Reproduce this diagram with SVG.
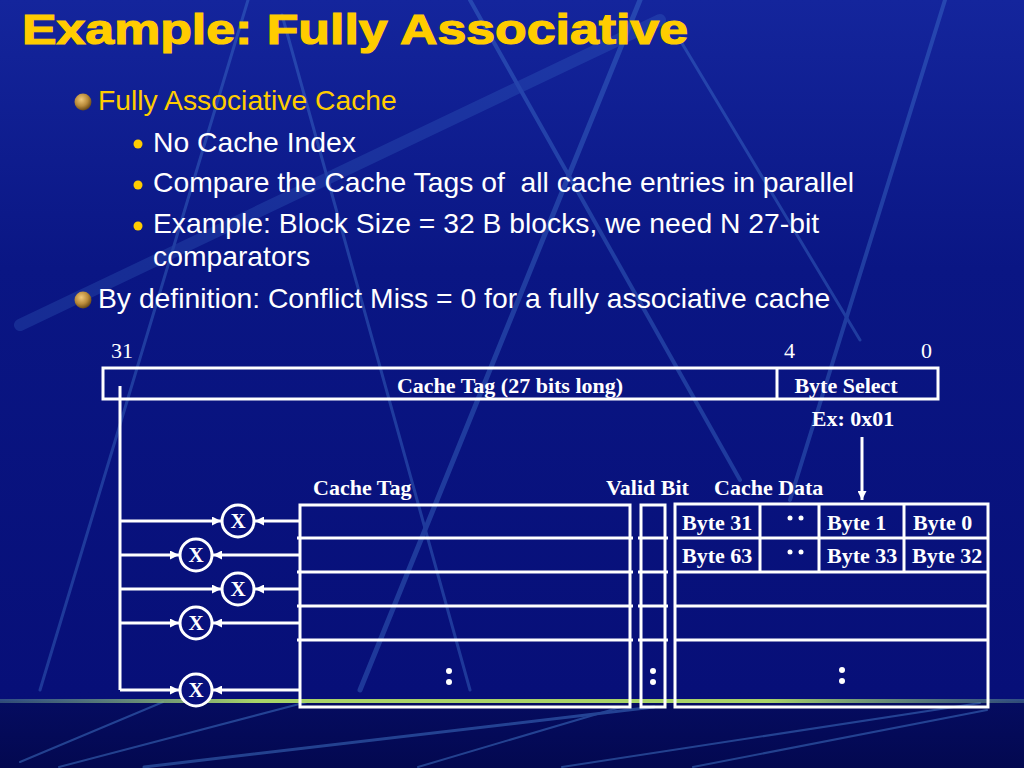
<svg xmlns="http://www.w3.org/2000/svg" width="1024" height="768" viewBox="0 0 1024 768">
<defs>
<linearGradient id="bg" x1="0" y1="0" x2="0" y2="1">
<stop offset="0" stop-color="#14259c"/>
<stop offset="0.35" stop-color="#0a1684"/>
<stop offset="0.9" stop-color="#070f78"/>
<stop offset="1" stop-color="#060e70"/>
</linearGradient>
<linearGradient id="bot" x1="0" y1="0" x2="0" y2="1">
<stop offset="0" stop-color="#050c60"/>
<stop offset="1" stop-color="#030850"/>
</linearGradient>
<linearGradient id="green" x1="0" y1="0" x2="1" y2="0">
<stop offset="0" stop-color="#5a8a90" stop-opacity="0.5"/>
<stop offset="0.25" stop-color="#a8d468"/>
<stop offset="0.75" stop-color="#a8d468"/>
<stop offset="1" stop-color="#5a8a90" stop-opacity="0.5"/>
</linearGradient>
<radialGradient id="ball" cx="0.4" cy="0.35" r="0.65">
<stop offset="0" stop-color="#f0c878"/>
<stop offset="0.6" stop-color="#b88a3a"/>
<stop offset="1" stop-color="#6a4a18"/>
</radialGradient>
<marker id="ah" viewBox="0 0 10 10" refX="10" refY="5" markerWidth="10" markerHeight="9" markerUnits="userSpaceOnUse" orient="auto">
<path d="M0,0 L10,5 L0,10 z" fill="#ffffff"/>
</marker>
<style>
.streak{stroke:#4a86d8;fill:none;stroke-linecap:round}
.title{font-family:"Liberation Sans",Arial,sans-serif;font-weight:900;fill:#FFCC00;stroke:#FFCC00;stroke-width:1.2}
.b1{font-family:"Liberation Sans",Arial,sans-serif;font-size:28.3px;fill:#FFCC00}
.b2{font-family:"Liberation Sans",Arial,sans-serif;font-size:28.3px;fill:#ffffff}
.lbl{font-family:"Liberation Serif","Times New Roman",serif;font-weight:bold;font-size:22px;fill:#ffffff}
.num{font-family:"Liberation Serif","Times New Roman",serif;font-size:22px;fill:#ffffff}
.box{fill:none;stroke:#ffffff;stroke-width:3}
.ln{stroke:#ffffff;stroke-width:3;fill:none}
.wire{stroke:#ffffff;stroke-width:3;fill:none}
.arr{stroke:#ffffff;stroke-width:3;fill:none;marker-end:url(#ah)}
.cmp{fill:#08107c;stroke:#ffffff;stroke-width:3}
.cx{font-family:"Liberation Serif","Times New Roman",serif;font-weight:bold;font-size:21px;fill:#ffffff;text-anchor:middle}
.dot{fill:#ffffff}
</style>
</defs>

<!-- background -->
<rect x="0" y="0" width="1024" height="768" fill="url(#bg)"/>
<g opacity="0.35">
<line class="streak" x1="20" y1="325" x2="660" y2="20" stroke-width="12" opacity="0.6"/>
<line class="streak" x1="248" y1="0" x2="40" y2="690" stroke-width="3"/>
<line class="streak" x1="282" y1="15" x2="470" y2="690" stroke-width="3"/>
<line class="streak" x1="470" y1="0" x2="740" y2="480" stroke-width="4"/>
<line class="streak" x1="640" y1="0" x2="360" y2="690" stroke-width="5"/>
<line class="streak" x1="945" y1="0" x2="790" y2="500" stroke-width="4"/>
<line class="streak" x1="680" y1="40" x2="860" y2="340" stroke-width="3"/>
</g>
<rect x="0" y="701" width="1024" height="67" fill="url(#bot)"/>
<g opacity="0.45">
<line class="streak" x1="20" y1="762" x2="163" y2="702" stroke-width="2"/>
<line class="streak" x1="59" y1="767" x2="307" y2="702" stroke-width="2"/>
<line class="streak" x1="144" y1="767" x2="654" y2="707" stroke-width="3"/>
<line class="streak" x1="418" y1="767" x2="621" y2="707" stroke-width="2"/>
<line class="streak" x1="562" y1="767" x2="980" y2="703" stroke-width="2"/>
<line class="streak" x1="693" y1="767" x2="987" y2="710" stroke-width="2"/>
</g>
<rect x="0" y="699" width="1024" height="4" fill="url(#green)"/>

<!-- title & bullets -->
<g id="title">
<text class="title" x="22" y="44" font-size="43" textLength="666" lengthAdjust="spacingAndGlyphs">Example: Fully Associative</text>
</g>
<g id="bullets">
<circle cx="83" cy="102" r="8.5" fill="url(#ball)"/>
<text class="b1" x="98" y="110">Fully Associative Cache</text>
<circle cx="138" cy="144" r="4.5" fill="#FFCC00"/>
<text class="b2" x="153" y="152">No Cache Index</text>
<circle cx="138" cy="185" r="4.5" fill="#FFCC00"/>
<text class="b2" x="153" y="192" xml:space="preserve">Compare the Cache Tags of  all cache entries in parallel</text>
<circle cx="138" cy="226" r="4.5" fill="#FFCC00"/>
<text class="b2" x="153" y="233">Example: Block Size = 32 B blocks, we need N 27-bit</text>
<text class="b2" x="153" y="266">comparators</text>
<circle cx="83" cy="300" r="8.5" fill="url(#ball)"/>
<text class="b2" x="98" y="308">By definition: Conflict Miss = 0 for a fully associative cache</text>
</g>

<!-- address register -->
<g id="address">
<text class="num" x="111" y="358">31</text>
<text class="num" x="784" y="358">4</text>
<text class="num" x="921" y="358">0</text>
<rect class="box" x="103" y="368" width="835" height="31"/>
<line class="ln" x1="777" y1="368" x2="777" y2="399"/>
<text class="lbl" x="510" y="393" text-anchor="middle">Cache Tag (27 bits long)</text>
<text class="lbl" x="846" y="393" text-anchor="middle">Byte Select</text>
</g>
<g id="example">
<text class="lbl" x="853" y="426" text-anchor="middle">Ex: 0x01</text>
</g>

<!-- column labels -->
<g id="labels">
<text class="lbl" x="313" y="495">Cache Tag</text>
<text class="lbl" x="606" y="495">Valid Bit</text>
<text class="lbl" x="714" y="495">Cache Data</text>
</g>

<!-- cache tag array -->
<g id="tag-array">
<rect class="box" x="300" y="505" width="330" height="202"/>
<line class="ln" x1="297" y1="538" x2="633" y2="538"/>
<line class="ln" x1="297" y1="572" x2="633" y2="572"/>
<line class="ln" x1="297" y1="606" x2="633" y2="606"/>
<line class="ln" x1="297" y1="640" x2="633" y2="640"/>
<circle class="dot" cx="449" cy="671" r="3"/>
<circle class="dot" cx="449" cy="682" r="3"/>
</g>

<!-- valid bit array -->
<g id="valid-array">
<rect class="box" x="641" y="505" width="24" height="202"/>
<line class="ln" x1="638" y1="538" x2="668" y2="538"/>
<line class="ln" x1="638" y1="572" x2="668" y2="572"/>
<line class="ln" x1="638" y1="606" x2="668" y2="606"/>
<line class="ln" x1="638" y1="640" x2="668" y2="640"/>
<circle class="dot" cx="653" cy="671" r="3"/>
<circle class="dot" cx="653" cy="682" r="3"/>
</g>

<!-- cache data array -->
<g id="data-array">
<rect class="box" x="675" y="504" width="313" height="203"/>
<line class="ln" x1="675" y1="538" x2="988" y2="538"/>
<line class="ln" x1="675" y1="572" x2="988" y2="572"/>
<line class="ln" x1="675" y1="606" x2="988" y2="606"/>
<line class="ln" x1="675" y1="640" x2="988" y2="640"/>
<line class="ln" x1="760" y1="504" x2="760" y2="572"/>
<line class="ln" x1="819" y1="504" x2="819" y2="572"/>
<line class="ln" x1="904" y1="504" x2="904" y2="572"/>
<text class="lbl" x="682" y="530">Byte 31</text>
<text class="lbl" x="827" y="530">Byte 1</text>
<text class="lbl" x="913" y="530">Byte 0</text>
<text class="lbl" x="682" y="563">Byte 63</text>
<text class="lbl" x="827" y="563">Byte 33</text>
<text class="lbl" x="912" y="563">Byte 32</text>
<circle class="dot" cx="790" cy="518" r="2.5"/>
<circle class="dot" cx="801" cy="518" r="2.5"/>
<circle class="dot" cx="790" cy="552" r="2.5"/>
<circle class="dot" cx="801" cy="552" r="2.5"/>
<circle class="dot" cx="842" cy="670" r="3"/>
<circle class="dot" cx="842" cy="681" r="3"/>
</g>

<!-- comparators -->
<g id="cmp1"><circle class="cmp" cx="238" cy="521" r="16"/><text class="cx" x="238" y="528">X</text></g>
<g id="cmp2"><circle class="cmp" cx="196" cy="555" r="16"/><text class="cx" x="196" y="562">X</text></g>
<g id="cmp3"><circle class="cmp" cx="238" cy="589" r="16"/><text class="cx" x="238" y="596">X</text></g>
<g id="cmp4"><circle class="cmp" cx="196" cy="623" r="16"/><text class="cx" x="196" y="630">X</text></g>
<g id="cmp5"><circle class="cmp" cx="196" cy="690" r="16"/><text class="cx" x="196" y="697">X</text></g>

<!-- connectors -->
<g id="connectors">
<polyline class="wire" points="120,386 120,690"/>
<line class="arr" x1="120" y1="521" x2="221" y2="521"/>
<line class="arr" x1="120" y1="555" x2="179" y2="555"/>
<line class="arr" x1="120" y1="589" x2="221" y2="589"/>
<line class="arr" x1="120" y1="623" x2="179" y2="623"/>
<line class="arr" x1="120" y1="690" x2="179" y2="690"/>
<line class="arr" x1="300" y1="521" x2="255" y2="521"/>
<line class="arr" x1="300" y1="555" x2="213" y2="555"/>
<line class="arr" x1="300" y1="589" x2="255" y2="589"/>
<line class="arr" x1="300" y1="623" x2="213" y2="623"/>
<line class="arr" x1="300" y1="690" x2="213" y2="690"/>
<line class="arr" x1="862" y1="437" x2="862" y2="500" stroke-width="2"/>
</g>
</svg>
